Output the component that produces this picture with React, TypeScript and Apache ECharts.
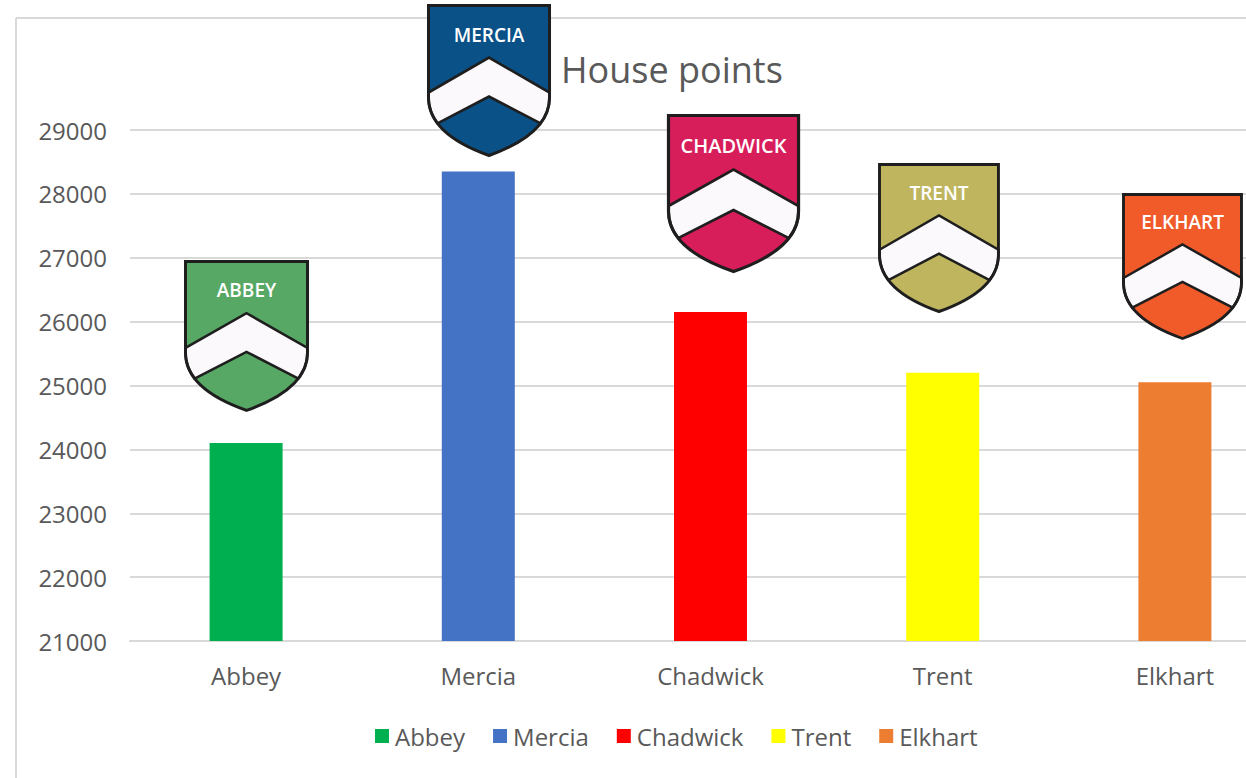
import React, { useEffect, useRef } from "react";
import * as echarts from "echarts";

const categories = ["Abbey", "Mercia", "Chadwick", "Trent", "Elkhart"];
const points = [24100, 28350, 26150, 25200, 25050];
const barColors = ["#00b050", "#4472c4", "#ff0000", "#ffff00", "#ed7d31"];
const shieldLabels = ["ABBEY", "MERCIA", "CHADWICK", "TRENT", "ELKHART"];
const shieldColors = ["#58a865", "#0a5188", "#d81d5b", "#bfb55f", "#f15a29"];
const yMin = 21000;
const yMax = 29000;
const yStep = 1000;

// shield placement (pixel layout of the pasted house crests)
const shieldLayout = [
  { x: 185.5, y: 261.5, w: 122, h: 149 },
  { x: 428.5, y: 5.5, w: 121, h: 150 },
  { x: 668.5, y: 115.5, w: 130, h: 156 },
  { x: 879.5, y: 164.5, w: 119, h: 147 },
  { x: 1123.5, y: 194.5, w: 118, h: 144 },
];

const OUTLINE_D =
  "M0,0 L122,0 L122,92 C122,120 95,138 61,150 C27,138 0,120 0,92 Z";
const CHEVRON_D =
  "M0,87 L61,52 L122,87 L122,92 C122,101.8 118.7,110.4 112.9,117.9 L61,91 L9.1,117.9 C3.3,110.4 0,101.8 0,92 Z";

let registered = false;
function registerShapes() {
  if (registered) return;
  registered = true;
  echarts.graphic.registerShape("shieldOutline", echarts.graphic.extendPath(OUTLINE_D, {}) as any);
  echarts.graphic.registerShape("shieldChevron", echarts.graphic.extendPath(CHEVRON_D, {}) as any);
}

const FONT = "'Open Sans', 'Noto Sans', sans-serif";
const GREY = "#595959";
const CHART_W = 1291;

export default function App() {
  const ref = useRef<HTMLDivElement>(null);
  useEffect(() => {
    registerShapes();
    document.documentElement.style.overflow = "hidden";
    document.body.style.overflow = "hidden";
    const chart = echarts.init(ref.current!, null, { renderer: "svg" });

    const series = categories.map((name, i) => ({
      name,
      type: "bar",
      barWidth: 73,
      barGap: "-100%",
      itemStyle: { color: barColors[i] },
      data: categories.map((_, j) => (j === i ? points[i] : null)),
    }));

    const shields = shieldLayout.map((s, i) => {
      const sx = s.w / 122;
      const sy = s.h / 150;
      return {
        type: "group",
        x: s.x,
        y: s.y,
        z: 100,
        children: [
          {
            type: "shieldOutline",
            z: 100,
            scaleX: sx,
            scaleY: sy,
            style: { fill: shieldColors[i], stroke: "none" },
          },
          {
            type: "shieldChevron",
            z: 101,
            scaleX: sx,
            scaleY: sy,
            style: { fill: "#fcf9fc", stroke: "#1e1e1e", lineWidth: 2.6 },
          },
          {
            type: "shieldOutline",
            z: 102,
            scaleX: sx,
            scaleY: sy,
            style: { fill: "none", stroke: "#1e1e1e", lineWidth: 3 },
          },
          {
            type: "text",
            z: 103,
            x: s.w / 2,
            y: 29 * sy,
            style: {
              text: shieldLabels[i],
              fill: "#ffffff",
              font: `600 ${i === 2 ? 20 : 19}px ${FONT}`,
              align: "center",
              verticalAlign: "middle",
            },
          },
        ],
      };
    });

    chart.setOption({
      animation: false,
      backgroundColor: "#ffffff",
      textStyle: { fontFamily: FONT },
      title: {
        text: "House points",
        left: 561,
        top: 51,
        padding: 0,
        textStyle: { color: GREY, fontSize: 36, fontWeight: "normal", fontFamily: FONT },
      },
      legend: {
        data: categories,
        left: 375,
        top: 724,
        padding: 0,
        itemWidth: 14,
        itemHeight: 14,
        itemGap: 28,
        icon: "rect",
        textStyle: { color: GREY, fontSize: 24, fontFamily: FONT, padding: [0, 0, 0, 1] },
      },
      grid: { left: 130, top: 130, right: 0, height: 511, containLabel: false },
      xAxis: {
        type: "category",
        data: categories,
        axisTick: { show: false },
        axisLine: { lineStyle: { color: "#d9d9d9", width: 2 } },
        axisLabel: { color: GREY, fontSize: 24, margin: 22, fontFamily: FONT },
      },
      yAxis: {
        type: "value",
        min: yMin,
        max: yMax,
        interval: yStep,
        axisLine: { show: false },
        axisTick: { show: false },
        splitLine: { lineStyle: { color: "#d9d9d9", width: 2 } },
        axisLabel: {
          color: GREY,
          fontSize: 24,
          margin: 23,
          fontFamily: FONT,
          formatter: (v: number) => String(v),
        },
      },
      series,
      graphic: [
        {
          type: "line",
          z: 50,
          shape: { x1: 16, y1: 18, x2: CHART_W, y2: 18 },
          style: { stroke: "#d9d9d9", lineWidth: 2 },
        },
        {
          type: "line",
          z: 50,
          shape: { x1: 16, y1: 18, x2: 16, y2: 778 },
          style: { stroke: "#d9d9d9", lineWidth: 2 },
        },
        ...shields,
      ],
    } as any);

    return () => chart.dispose();
  }, []);

  return (
    <div
      ref={ref}
      style={{ position: "fixed", left: 0, top: 0, width: CHART_W, height: 778 }}
    />
  );
}
